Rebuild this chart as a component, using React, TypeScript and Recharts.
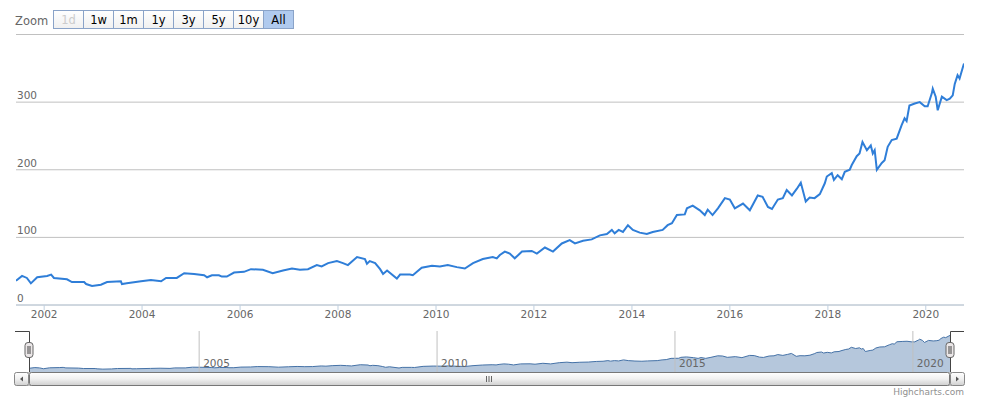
import { LineChart, Line, XAxis, YAxis, CartesianGrid, AreaChart, Area, ReferenceLine } from "recharts";

const dates = [
  "2001-06-05", "2001-07-20", "2001-08-25", "2001-09-24", "2001-11-10",
  "2002-01-23", "2002-02-22", "2002-03-15", "2002-06-20", "2002-07-27", "2002-10-26", "2002-11-10", "2002-12-24",
  "2003-02-28", "2003-04-15", "2003-07-27", "2003-08-04", "2003-09-09", "2003-12-24",
  "2004-03-07", "2004-05-22", "2004-06-28", "2004-09-16", "2004-11-10",
  "2005-01-23", "2005-04-08", "2005-04-30", "2005-06-05", "2005-07-27", "2005-08-18", "2005-09-24", "2005-11-17",
  "2006-01-30", "2006-03-23", "2006-06-20", "2006-09-01", "2006-11-17",
  "2007-01-23", "2007-03-23", "2007-05-22", "2007-07-27", "2007-09-01", "2007-10-19", "2007-12-24",
  "2008-02-07", "2008-03-15", "2008-05-22", "2008-07-20", "2008-08-04", "2008-08-25", "2008-10-04", "2008-11-10", "2008-12-02",
  "2009-01-01", "2009-03-15", "2009-04-08", "2009-06-20", "2009-07-12", "2009-09-16", "2009-12-02",
  "2010-01-30", "2010-03-30", "2010-06-05", "2010-08-04", "2010-10-04", "2010-12-16",
  "2011-02-28", "2011-03-30", "2011-04-22", "2011-05-29", "2011-07-05", "2011-08-11", "2011-10-04", "2011-12-16",
  "2012-01-23", "2012-03-23", "2012-05-22", "2012-07-27", "2012-09-24", "2012-11-02",
  "2013-01-01", "2013-03-07", "2013-05-07", "2013-06-28", "2013-08-04", "2013-08-25", "2013-09-24", "2013-10-26", "2013-12-02",
  "2014-01-08", "2014-02-28", "2014-04-22", "2014-06-05", "2014-08-18", "2014-09-24", "2014-10-26", "2014-12-02",
  "2015-01-30", "2015-02-15", "2015-03-30", "2015-05-22", "2015-06-28", "2015-07-20", "2015-08-25", "2015-10-04", "2015-11-25",
  "2016-01-01", "2016-02-07", "2016-04-08", "2016-05-29", "2016-07-27", "2016-09-01", "2016-10-11", "2016-11-10", "2016-12-24",
  "2017-01-30", "2017-02-28", "2017-04-08", "2017-05-15", "2017-06-13", "2017-07-20", "2017-08-18", "2017-09-24", "2017-11-02", "2017-12-09", "2017-12-24",
  "2018-01-30", "2018-02-15", "2018-03-15", "2018-04-15", "2018-05-07", "2018-06-13", "2018-06-28", "2018-08-04", "2018-08-25", "2018-09-16", "2018-10-19", "2018-11-17", "2018-12-02", "2018-12-16",
  "2019-01-01", "2019-02-07", "2019-02-28", "2019-03-23", "2019-04-22", "2019-05-29", "2019-07-05", "2019-07-27", "2019-08-11", "2019-09-01", "2019-10-11", "2019-11-17", "2019-12-24",
  "2020-01-15", "2020-02-15", "2020-02-22", "2020-03-15", "2020-03-30", "2020-04-30", "2020-06-05", "2020-06-28", "2020-07-20", "2020-08-04", "2020-08-25", "2020-09-09", "2020-10-04", "2020-10-12",
];

const prices = [
  36, 43, 40, 32, 41,
  43, 45, 40, 38, 34, 34, 31, 28,
  30, 34, 35, 31, 32, 35,
  37, 35, 40, 40, 47,
  46, 44, 41, 44, 44, 42, 42, 48,
  49, 53, 52, 47, 51,
  54, 52, 53, 59, 57, 62, 65,
  62, 59, 71, 68, 61, 65, 62, 53, 46,
  51, 39, 45, 45, 44, 55, 58,
  57, 59, 56, 54, 62, 68,
  71, 69, 74, 79, 76, 69, 79, 80,
  76, 85, 79, 91, 96, 91,
  95, 97, 103, 105, 111, 106, 111, 108, 118,
  111, 107, 105, 108, 111, 118, 121, 133,
  134, 143, 147, 140, 133, 141, 133, 143, 158,
  156, 143, 150, 140, 162, 160, 145, 142, 156,
  158, 170, 162, 172, 181, 153, 159, 158, 164, 180, 190,
  195, 185, 192, 186, 197, 200, 207, 220, 224, 241, 229, 236, 224, 229,
  200, 210, 214, 234, 244, 246, 266, 276, 272, 295, 298, 300, 294,
  294, 313, 320, 308, 288, 308, 303, 305, 310, 327, 340, 335, 352, 357,
];

const yTicks = [0, 100, 200, 300, 400];
const xTickYears = [2002, 2004, 2006, 2008, 2010, 2012, 2014, 2016, 2018, 2020];
const navYears = [2005, 2010, 2015, 2020];
const zoomButtons = ["1d", "1w", "1m", "1y", "3y", "5y", "10y", "All"];

const START = Date.parse("2001-06-05");
const END = Date.parse("2020-10-12");

const data = dates.map((d, i) => ({ t: Date.parse(d), v: prices[i] }));
const xTicks = xTickYears.map((y) => Date.UTC(y, 0, 1));

const FONT = '"Lucida Grande", "Lucida Sans Unicode", "DejaVu Sans", Verdana, sans-serif';

function YTick(props: any) {
  const { y, payload } = props;
  if (payload.value === 400) return <g />;
  return (
    <text x={17} y={y - 3} fill="#666" fontSize={10.5} fontFamily={FONT}>
      {payload.value}
    </text>
  );
}

function XTick(props: any) {
  const { x, y, payload } = props;
  return (
    <text x={x} y={y + 6} fill="#666" fontSize={10.5} fontFamily={FONT} textAnchor="middle">
      {new Date(payload.value).getUTCFullYear()}
    </text>
  );
}

function NavLabel(props: any) {
  const { viewBox, value } = props;
  return (
    <text x={viewBox.x + 4} y={viewBox.y + viewBox.height - 5} fill="#666" fontSize={10.5} fontFamily={FONT}>
      {value}
    </text>
  );
}

function Overlay() {
  const handles = [29.5, 950.5];
  return (
    <svg width={982} height={406} style={{ position: "absolute", left: 0, top: 0, pointerEvents: "none" }}>
      <defs>
        <linearGradient id="btn" x1="0" y1="0" x2="0" y2="1">
          <stop offset="0" stopColor="#ffffff" />
          <stop offset="1" stopColor="#f0f0f0" />
        </linearGradient>
        <linearGradient id="bar" x1="0" y1="0" x2="0" y2="1">
          <stop offset="0" stopColor="#ffffff" />
          <stop offset="0.5" stopColor="#f0f0f0" />
          <stop offset="1" stopColor="#cfcfcf" />
        </linearGradient>
      </defs>

      {/* range selector */}
      <text x={15} y={25} fill="#666" fontSize={11.5} fontFamily={FONT}>Zoom</text>
      {zoomButtons.map((b, i) => {
        const x = 53.5 + i * 30;
        const selected = b === "All";
        const disabled = b === "1d";
        return (
          <g key={b}>
            <rect x={x} y={10.5} width={30} height={18} fill={selected ? "#b0caee" : "url(#btn)"} stroke="#8aa3c8" />
            <text x={x + 15} y={24} textAnchor="middle" fontSize={11.5} fontFamily={FONT}
              fill={disabled ? "#cccccc" : "#000"}>{b}</text>
          </g>
        );
      })}

      {/* navigator outline */}
      <path d="M15 331.5 H29.5 V372 M950.5 372 V331.5 H964" stroke="#444" fill="none" />
      {handles.map((hx) => (
        <g key={hx}>
          <rect x={hx - 4.5} y={342.5} width={8} height={15} rx={3} fill="#ebe7e8" stroke="#666" />
          <line x1={hx - 1.5} x2={hx - 1.5} y1={346} y2={354} stroke="#444" />
          <line x1={hx + 0.5} x2={hx + 0.5} y1={346} y2={354} stroke="#444" />
        </g>
      ))}

      {/* scrollbar */}
      <rect x={15.5} y={372.5} width={948} height={13} rx={2} fill="#f4f4f4" stroke="#bbb" />
      <rect x={29.5} y={372.5} width={920} height={13} rx={2} fill="url(#bar)" stroke="#777" />
      <rect x={14.5} y={372.5} width={14} height={13} rx={2} fill="url(#bar)" stroke="#888" />
      <rect x={950.5} y={372.5} width={14} height={13} rx={2} fill="url(#bar)" stroke="#888" />
      <path d="M20 379 L23 376.5 L23 381.5 Z" fill="#555" />
      <path d="M959 379 L956 376.5 L956 381.5 Z" fill="#555" />
      {[486.5, 489, 491.5].map((gx) => (
        <line key={gx} x1={gx} x2={gx} y1={376} y2={382} stroke="#666" />
      ))}

      <text x={964} y={395} textAnchor="end" fill="#909090" fontSize={9} fontFamily={FONT}>Highcharts.com</text>
    </svg>
  );
}

export default function App() {
  return (
    <div style={{ position: "absolute", left: 0, top: 0, width: 982, height: 406, background: "#fff" }}>
      <div style={{ position: "absolute", left: 0, top: 0 }}>
        <LineChart width={982} height={330} data={data} margin={{ top: 34.5, right: 18, bottom: 0, left: 16 }}>
          <CartesianGrid vertical={false} stroke="#C0C0C0" />
          <XAxis
            dataKey="t"
            type="number"
            domain={[START, END]}
            ticks={xTicks}
            interval={0}
            height={25}
            tickSize={5}
            stroke="#C0D0E0"
            tick={<XTick />}
            allowDataOverflow
          />
          <YAxis
            type="number"
            domain={[0, 400]}
            ticks={yTicks}
            interval={0}
            mirror
            axisLine={false}
            tickLine={false}
            tick={<YTick />}
          />
          <Line
            type="linear"
            dataKey="v"
            stroke="#2f7ed8"
            strokeWidth={2}
            dot={false}
            isAnimationActive={false}
          />
        </LineChart>
      </div>
      <div style={{ position: "absolute", left: 0, top: 331 }}>
        <AreaChart width={982} height={41} data={data} margin={{ top: 0, right: 32, bottom: 0, left: 29 }}>
          <XAxis dataKey="t" type="number" domain={[START, END]} hide />
          <YAxis type="number" domain={[0, 400]} hide />
          <Area
            type="linear"
            dataKey="v"
            stroke="#4572A7"
            strokeWidth={1}
            fill="#4572A7"
            fillOpacity={0.4}
            isAnimationActive={false}
          />
          {navYears.map((y) => (
            <ReferenceLine
              key={y}
              x={Date.UTC(y, 0, 1)}
              stroke="#C0C0C0"
              label={<NavLabel value={String(y)} />}
            />
          ))}
        </AreaChart>
      </div>
      <Overlay />
    </div>
  );
}
